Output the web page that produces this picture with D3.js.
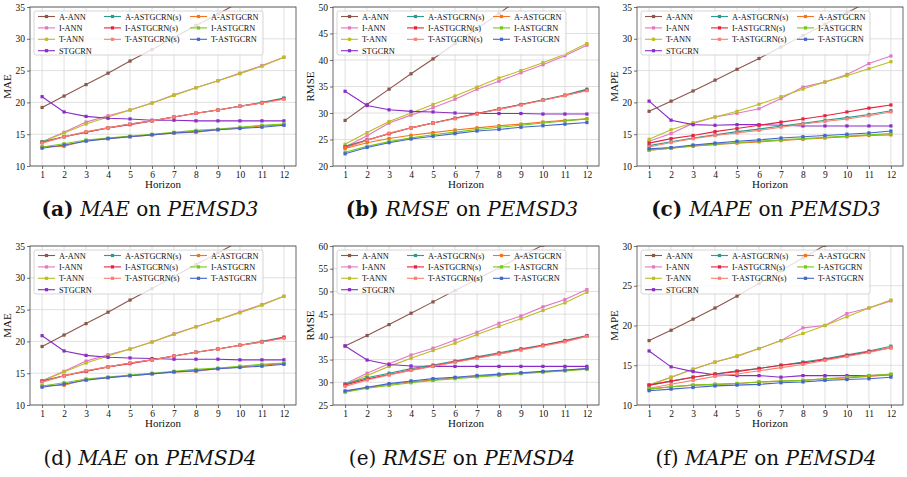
<!DOCTYPE html>
<html>
<head>
<meta charset="utf-8">
<script src="https://cdn.jsdelivr.net/npm/d3@7"></script>
<style>
  body { margin: 0; background: #fff; }
  text { font-family: "Liberation Serif", "Times New Roman", serif; fill: #111; }
</style>
</head>
<body>
<svg id="chart" width="907" height="477"></svg>
<script>
// horizons on the x axis
const horizons = [1, 2, 3, 4, 5, 6, 7, 8, 9, 10, 11, 12];

// legend order = drawing order
const seriesNames = ["A-ANN", "I-ANN", "T-ANN", "STGCRN",
  "A-ASTGCRN(s)", "I-ASTGCRN(s)", "T-ASTGCRN(s)",
  "A-ASTGCRN", "I-ASTGCRN", "T-ASTGCRN"];
const seriesColors = ["#8c564b", "#e377c2", "#bcbd22", "#8a2cc6",
  "#2e9a8f", "#e8213e", "#fa8072",
  "#f5731a", "#76c81a", "#4466cc"];

// MAE on PEMSD3, one row per series
const maePemsd3 = [
  [19.2, 21.0, 22.8, 24.6, 26.5, 28.3, 30.2, 32.1, 33.9, 35.8, 37.6, 39.5],
  [13.8, 15.3, 16.9, 17.9, 18.8, 19.9, 21.2, 22.3, 23.4, 24.6, 25.8, 27.1],
  [13.8, 15.2, 16.6, 17.7, 18.8, 19.9, 21.1, 22.3, 23.4, 24.5, 25.7, 27.1],
  [20.9, 18.5, 17.8, 17.5, 17.4, 17.2, 17.2, 17.1, 17.1, 17.1, 17.1, 17.1],
  [13.8, 14.6, 15.3, 16.0, 16.6, 17.1, 17.7, 18.3, 18.8, 19.4, 20.0, 20.7],
  [13.7, 14.6, 15.3, 16.0, 16.5, 17.1, 17.7, 18.3, 18.8, 19.4, 19.9, 20.6],
  [13.6, 14.6, 15.4, 16.0, 16.6, 17.1, 17.7, 18.3, 18.8, 19.4, 19.9, 20.5],
  [13.0, 13.1, 14.0, 14.3, 14.6, 14.9, 15.2, 15.3, 15.7, 16.0, 16.3, 16.5],
  [13.0, 13.5, 14.1, 14.4, 14.7, 15.0, 15.3, 15.6, 15.8, 16.1, 16.4, 16.6],
  [12.8, 13.3, 13.9, 14.3, 14.6, 14.9, 15.2, 15.4, 15.7, 15.9, 16.1, 16.4]
];

// RMSE on PEMSD3
const rmsePemsd3 = [
  [28.6, 31.6, 34.5, 37.4, 40.2, 43.1, 45.9, 48.8, 51.7, 54.6, 57.5, 60.4],
  [23.6, 25.7, 28.1, 29.6, 31.0, 32.6, 34.5, 36.0, 37.6, 39.1, 40.8, 42.8],
  [24.1, 26.3, 28.4, 30.0, 31.6, 33.2, 34.9, 36.6, 38.0, 39.5, 41.1, 43.1],
  [34.1, 31.4, 30.6, 30.3, 30.2, 30.0, 29.9, 29.9, 29.9, 29.8, 29.8, 29.8],
  [23.7, 24.9, 26.1, 27.2, 28.1, 29.0, 29.9, 30.8, 31.6, 32.5, 33.4, 34.5],
  [23.5, 24.9, 26.1, 27.2, 28.1, 29.0, 29.9, 30.7, 31.6, 32.4, 33.3, 34.3],
  [23.4, 24.8, 26.2, 27.2, 28.1, 28.9, 29.8, 30.7, 31.5, 32.4, 33.3, 34.2],
  [23.3, 24.4, 25.2, 25.8, 26.3, 26.8, 27.2, 27.6, 27.9, 28.3, 28.6, 28.9],
  [22.6, 23.7, 24.6, 25.3, 25.9, 26.4, 26.9, 27.3, 27.7, 28.1, 28.5, 28.9],
  [22.3, 23.5, 24.4, 25.1, 25.6, 26.1, 26.6, 26.9, 27.3, 27.6, 27.9, 28.2]
];

// MAPE on PEMSD3
const mapePemsd3 = [
  [18.6, 20.2, 21.8, 23.5, 25.2, 26.9, 28.7, 30.5, 32.3, 34.1, 35.9, 37.7],
  [13.9, 15.1, 16.7, 17.7, 18.3, 19.0, 20.6, 22.4, 23.2, 24.4, 26.1, 27.3],
  [14.2, 15.7, 16.8, 17.7, 18.6, 19.7, 20.9, 22.1, 23.2, 24.2, 25.3, 26.4],
  [20.2, 17.2, 16.5, 16.4, 16.5, 16.5, 16.4, 16.3, 16.3, 16.3, 16.3, 16.3],
  [13.2, 13.8, 14.4, 14.9, 15.4, 15.8, 16.3, 16.7, 17.2, 17.6, 18.1, 18.7],
  [13.6, 14.3, 14.8, 15.4, 15.9, 16.4, 16.9, 17.4, 17.9, 18.5, 19.1, 19.6],
  [13.0, 13.7, 14.3, 14.8, 15.2, 15.6, 16.1, 16.6, 17.0, 17.4, 17.9, 18.5],
  [12.5, 12.8, 13.1, 13.4, 13.6, 13.8, 14.0, 14.2, 14.4, 14.6, 14.8, 14.9],
  [12.5, 12.8, 13.2, 13.4, 13.7, 13.9, 14.1, 14.3, 14.5, 14.7, 14.9, 15.1],
  [12.7, 12.9, 13.3, 13.6, 13.9, 14.1, 14.4, 14.6, 14.8, 15.0, 15.2, 15.5]
];

// MAE on PEMSD4 (the figure shows the same curves as PEMSD3)
const maePemsd4 = [
  [19.2, 21.0, 22.8, 24.6, 26.5, 28.3, 30.2, 32.1, 33.9, 35.8, 37.6, 39.5],
  [13.8, 15.3, 16.9, 17.9, 18.8, 19.9, 21.2, 22.3, 23.4, 24.6, 25.8, 27.1],
  [13.8, 15.2, 16.6, 17.7, 18.8, 19.9, 21.1, 22.3, 23.4, 24.5, 25.7, 27.1],
  [20.9, 18.5, 17.8, 17.5, 17.4, 17.3, 17.2, 17.2, 17.2, 17.1, 17.1, 17.1],
  [13.8, 14.6, 15.3, 16.0, 16.6, 17.1, 17.7, 18.3, 18.8, 19.4, 20.0, 20.7],
  [13.7, 14.6, 15.3, 16.0, 16.5, 17.1, 17.7, 18.3, 18.8, 19.4, 19.9, 20.6],
  [13.6, 14.6, 15.4, 16.0, 16.6, 17.1, 17.7, 18.3, 18.8, 19.4, 19.9, 20.5],
  [13.0, 13.1, 14.0, 14.3, 14.6, 14.9, 15.2, 15.3, 15.7, 16.0, 16.3, 16.5],
  [13.0, 13.5, 14.1, 14.4, 14.7, 15.0, 15.3, 15.6, 15.8, 16.1, 16.4, 16.6],
  [12.8, 13.3, 13.9, 14.3, 14.6, 14.9, 15.2, 15.4, 15.7, 15.9, 16.1, 16.4]
];

// RMSE on PEMSD4
const rmsePemsd4 = [
  [38.0, 40.3, 42.7, 45.2, 47.7, 50.2, 52.7, 55.2, 57.7, 60.2, 62.7, 65.2],
  [29.7, 32.0, 34.1, 36.0, 37.5, 39.3, 41.0, 43.0, 44.6, 46.6, 48.2, 50.4],
  [29.5, 31.5, 33.5, 35.3, 37.0, 38.6, 40.5, 42.3, 44.0, 45.8, 47.5, 49.8],
  [38.0, 34.9, 33.9, 33.6, 33.5, 33.5, 33.5, 33.5, 33.5, 33.5, 33.5, 33.5],
  [29.6, 31.0, 32.0, 33.0, 33.8, 34.7, 35.6, 36.5, 37.4, 38.2, 39.2, 40.3],
  [29.4, 30.7, 31.7, 32.7, 33.6, 34.5, 35.4, 36.3, 37.2, 38.1, 39.1, 40.2],
  [29.1, 30.5, 31.6, 32.6, 33.5, 34.4, 35.3, 36.2, 37.1, 38.0, 38.9, 40.1],
  [28.0, 28.8, 29.5, 30.1, 30.5, 31.0, 31.3, 31.6, 32.0, 32.3, 32.6, 33.0],
  [27.8, 28.7, 29.3, 29.9, 30.4, 30.8, 31.2, 31.5, 31.9, 32.2, 32.5, 32.9],
  [28.1, 28.9, 29.7, 30.3, 30.8, 31.1, 31.5, 31.8, 32.1, 32.4, 32.7, 33.0]
];

// MAPE on PEMSD4
const mapePemsd4 = [
  [18.1, 19.4, 20.8, 22.2, 23.7, 25.3, 26.9, 28.5, 30.1, 31.7, 33.3, 34.9],
  [12.5, 13.5, 14.5, 15.4, 16.1, 17.1, 18.1, 19.7, 20.0, 21.5, 22.2, 23.1],
  [12.5, 13.5, 14.5, 15.4, 16.2, 17.1, 18.1, 19.0, 20.0, 21.1, 22.2, 23.2],
  [16.8, 14.8, 14.2, 13.8, 13.7, 13.7, 13.5, 13.7, 13.7, 13.7, 13.7, 13.8],
  [12.5, 13.0, 13.5, 13.9, 14.3, 14.6, 15.0, 15.4, 15.8, 16.3, 16.8, 17.4],
  [12.5, 13.0, 13.5, 13.9, 14.2, 14.6, 15.0, 15.3, 15.7, 16.2, 16.7, 17.2],
  [12.1, 12.6, 13.1, 13.6, 13.9, 14.3, 14.7, 15.1, 15.6, 16.1, 16.6, 17.2],
  [12.0, 12.3, 12.5, 12.6, 12.7, 12.9, 13.0, 13.1, 13.3, 13.4, 13.6, 13.8],
  [12.0, 12.3, 12.5, 12.6, 12.7, 12.9, 13.0, 13.1, 13.3, 13.5, 13.7, 13.9],
  [11.8, 12.0, 12.2, 12.4, 12.5, 12.6, 12.8, 12.9, 13.1, 13.2, 13.3, 13.5]
];

// y tick labels for each panel
const yTicksMaeD3 = [10, 15, 20, 25, 30, 35];
const yTicksRmseD3 = [20, 25, 30, 35, 40, 45, 50];
const yTicksMapeD3 = [10, 15, 20, 25, 30, 35];
const yTicksMaeD4 = [10, 15, 20, 25, 30, 35];
const yTicksRmseD4 = [25, 30, 35, 40, 45, 50, 55, 60];
const yTicksMapeD4 = [10, 15, 20, 25, 30];

const panels = [
  { tag: "(a)", metric: "MAE", dataset: "PEMSD3", values: maePemsd3, yTicks: yTicksMaeD3 },
  { tag: "(b)", metric: "RMSE", dataset: "PEMSD3", values: rmsePemsd3, yTicks: yTicksRmseD3 },
  { tag: "(c)", metric: "MAPE", dataset: "PEMSD3", values: mapePemsd3, yTicks: yTicksMapeD3 },
  { tag: "(d)", metric: "MAE", dataset: "PEMSD4", values: maePemsd4, yTicks: yTicksMaeD4 },
  { tag: "(e)", metric: "RMSE", dataset: "PEMSD4", values: rmsePemsd4, yTicks: yTicksRmseD4 },
  { tag: "(f)", metric: "MAPE", dataset: "PEMSD4", values: mapePemsd4, yTicks: yTicksMapeD4 }
];

/********* layout *********/
const colLeft = [30, 333, 637];
const colCaption = [150, 462, 766];
const rowTop = [7, 246];
const plotW = 266, plotH = 159;
const captionY = [216, 465];

const svg = d3.select("#chart");

panels.forEach((p, i) => {
  const col = i % 3, row = Math.floor(i / 3);
  const left = colLeft[col], top = rowTop[row];

  // matplotlib style 5% margin on x
  const x = d3.scaleLinear().domain([1 - 0.55, 12 + 0.55]).range([0, plotW]);
  const y = d3.scaleLinear().domain(d3.extent(p.yTicks)).range([plotH, 0]);

  const g = svg.append("g").attr("transform", `translate(${left},${top})`);

  const clipId = "clip" + i;
  g.append("clipPath").attr("id", clipId)
    .append("rect").attr("width", plotW).attr("height", plotH);

  // grid
  g.append("g").selectAll("line").data(horizons).join("line")
    .attr("x1", d => x(d)).attr("x2", d => x(d))
    .attr("y1", 0).attr("y2", plotH)
    .attr("stroke", "#d8d8d8").attr("stroke-width", 0.8);
  g.append("g").selectAll("line").data(p.yTicks).join("line")
    .attr("x1", 0).attr("x2", plotW)
    .attr("y1", d => y(d)).attr("y2", d => y(d))
    .attr("stroke", "#d8d8d8").attr("stroke-width", 0.8);

  // axes
  const xAxis = g.append("g").attr("transform", `translate(0,${plotH})`)
    .call(d3.axisBottom(x).tickValues(horizons).tickSize(3).tickPadding(2));
  const yAxis = g.append("g")
    .call(d3.axisLeft(y).tickValues(p.yTicks).tickSize(3).tickPadding(2));
  [xAxis, yAxis].forEach(a => {
    a.select(".domain").remove();
    a.selectAll("line").attr("stroke", "#333").attr("stroke-width", 0.7);
    a.selectAll("text").style("font-family", '"Liberation Serif", serif')
      .style("font-size", "9.5px").attr("fill", "#111");
  });

  // lines + square markers
  const line = d3.line().x((d, k) => x(horizons[k])).y(d => y(d));
  const plotArea = g.append("g").attr("clip-path", `url(#${clipId})`);
  p.values.forEach((vals, s) => {
    plotArea.append("path").attr("d", line(vals))
      .attr("fill", "none").attr("stroke", seriesColors[s]).attr("stroke-width", 1.1);
    plotArea.append("g").selectAll("rect").data(vals).join("rect")
      .attr("x", (d, k) => x(horizons[k]) - 1.6).attr("y", d => y(d) - 1.6)
      .attr("width", 3.2).attr("height", 3.2)
      .attr("fill", seriesColors[s]);
  });

  // frame
  g.append("rect").attr("width", plotW).attr("height", plotH)
    .attr("fill", "none").attr("stroke", "#444").attr("stroke-width", 0.8);

  // axis labels
  g.append("text").attr("x", plotW / 2).attr("y", plotH + 22)
    .attr("text-anchor", "middle").style("font-size", "11px").text("Horizon");
  g.append("text").attr("transform", `translate(-19,${plotH / 2}) rotate(-90)`)
    .attr("text-anchor", "middle").style("font-size", "11px").text(p.metric);

  // legend, 3 columns filled top-down
  const legend = g.append("g");
  legend.append("rect").attr("x", 4).attr("y", 4).attr("width", 229).attr("height", 44)
    .attr("rx", 2).attr("fill", "#fff").attr("fill-opacity", 0.8)
    .attr("stroke", "#cccccc").attr("stroke-width", 0.8);
  const colX = [8, 74, 160];
  seriesNames.forEach((name, s) => {
    const c = s < 4 ? 0 : (s < 7 ? 1 : 2);
    const r = s < 4 ? s : (s < 7 ? s - 4 : s - 7);
    const lx = colX[c], ly = 9.5 + r * 11.4;
    legend.append("line").attr("x1", lx).attr("x2", lx + 17).attr("y1", ly).attr("y2", ly)
      .attr("stroke", seriesColors[s]).attr("stroke-width", 1.1);
    legend.append("rect").attr("x", lx + 8.5 - 1.6).attr("y", ly - 1.6)
      .attr("width", 3.2).attr("height", 3.2).attr("fill", seriesColors[s]);
    legend.append("text").attr("x", lx + 21).attr("y", ly + 3)
      .style("font-size", "8.3px").text(name);
  });

  // caption
  const cap = svg.append("text").attr("x", colCaption[col]).attr("y", captionY[row])
    .attr("text-anchor", "middle")
    .style("font-family", '"DejaVu Serif", serif').style("font-size", "20px");
  cap.append("tspan").style("font-weight", row === 0 ? "bold" : "normal").text(p.tag + " ");
  cap.append("tspan").style("font-style", "italic").text(p.metric);
  cap.append("tspan").text(" on ");
  cap.append("tspan").style("font-style", "italic").text(p.dataset);
});
</script>
</body>
</html>
